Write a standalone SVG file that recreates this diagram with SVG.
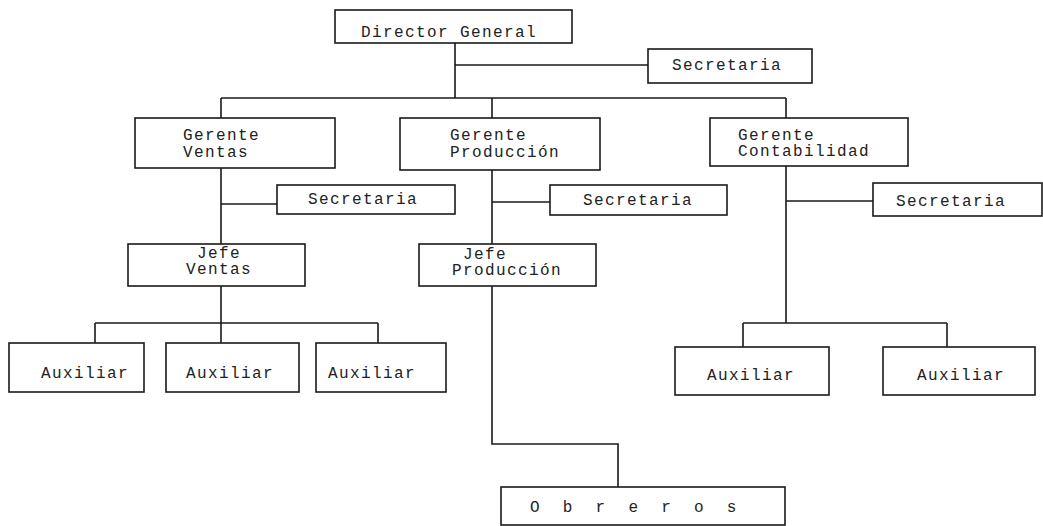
<svg xmlns="http://www.w3.org/2000/svg" width="1043" height="526" viewBox="0 0 1043 526">
<style>
.box{fill:none;stroke:#1a1a1a;stroke-width:1.6}
.ln{fill:none;stroke:#1a1a1a;stroke-width:1.6}
text{font-family:"Liberation Mono","DejaVu Sans Mono",monospace;font-size:16px;letter-spacing:1.4px;fill:#222}
.ob{letter-spacing:6.8px}
</style>
<rect width="1043" height="526" fill="#ffffff"/>
<g id="connectors">
<path class="ln" d="M455 43V98M455 65H648M221 98H786M221 98V118M492 98V118M786 98V118"/>
<path class="ln" d="M221 168V244M221 204H277M221 286V323M95 323H378M95 323V343M221 323V343M378 323V343"/>
<path class="ln" d="M492 170V244M492 202H550M492 286V444H618V487"/>
<path class="ln" d="M786 166V323M786 201H873M743 323H947M743 323V347M947 323V347"/>
</g>
<g id="director"><rect class="box" x="335" y="10" width="237" height="33"/><text x="361" y="37">Director General</text></g>
<g id="secretaria-dg"><rect class="box" x="648" y="49" width="164" height="34"/><text x="672" y="70">Secretaria</text></g>
<g id="gerente-ventas"><rect class="box" x="135" y="118" width="200" height="50"/><text x="183" y="140">Gerente</text><text x="183" y="157">Ventas</text></g>
<g id="gerente-produccion"><rect class="box" x="400" y="118" width="200" height="52"/><text x="450" y="140">Gerente</text><text x="450" y="157">Producción</text></g>
<g id="gerente-contabilidad"><rect class="box" x="710" y="118" width="198" height="48"/><text x="738" y="140">Gerente</text><text x="738" y="156">Contabilidad</text></g>
<g id="secretaria-ventas"><rect class="box" x="277" y="185" width="178" height="29"/><text x="308" y="204">Secretaria</text></g>
<g id="secretaria-produccion"><rect class="box" x="550" y="185" width="177" height="30"/><text x="583" y="205">Secretaria</text></g>
<g id="secretaria-contabilidad"><rect class="box" x="873" y="183" width="169" height="33"/><text x="896" y="206">Secretaria</text></g>
<g id="jefe-ventas"><rect class="box" x="128" y="244" width="177" height="42"/><text x="197" y="258">Jefe</text><text x="186" y="274">Ventas</text></g>
<g id="jefe-produccion"><rect class="box" x="419" y="244" width="177" height="42"/><text x="463" y="259">Jefe</text><text x="452" y="275">Producción</text></g>
<g id="auxiliar-v1"><rect class="box" x="9" y="343" width="135" height="49"/><text x="41" y="378">Auxiliar</text></g>
<g id="auxiliar-v2"><rect class="box" x="166" y="343" width="133" height="49"/><text x="186" y="378">Auxiliar</text></g>
<g id="auxiliar-v3"><rect class="box" x="316" y="343" width="130" height="49"/><text x="328" y="378">Auxiliar</text></g>
<g id="auxiliar-c1"><rect class="box" x="675" y="347" width="154" height="48"/><text x="707" y="380">Auxiliar</text></g>
<g id="auxiliar-c2"><rect class="box" x="883" y="347" width="152" height="48"/><text x="917" y="380">Auxiliar</text></g>
<g id="obreros"><rect class="box" x="501" y="487" width="284" height="38"/><text class="ob" x="530" y="512">O b r e r o s</text></g>
</svg>
